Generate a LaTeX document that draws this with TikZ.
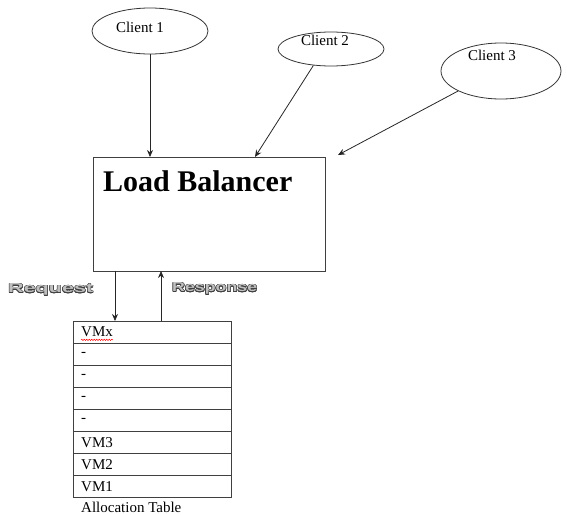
\documentclass[tikz,border=0pt]{standalone}
\usepackage{fontspec}
\setmainfont{Liberation Serif}
\newfontfamily\lsans{Liberation Sans}
\usepackage{contour}
\contourlength{0.5pt}
\usetikzlibrary{shapes.geometric,arrows.meta,decorations.pathmorphing,calc}
\begin{document}
\begin{tikzpicture}[x=1pt,y=-1pt,
  client/.style={draw=black!80,line width=0.8pt,ellipse,inner sep=0pt},
  small/.style={font=\fontsize{15}{17}\selectfont,inner sep=0pt},
  conn/.style={draw=black!85,line width=0.8pt,-{Stealth[length=7pt,width=6pt]}},
  row/.style={draw=black!75,line width=0.8pt,minimum width=158pt,minimum height=22.1pt,inner sep=0pt,outer sep=0pt,anchor=north west},
  rowtext/.style={font=\fontsize{15}{17}\selectfont,inner sep=0pt,anchor=west},
  outl/.style={inner sep=0pt,text=black!25}
]
\useasboundingbox (0,0) rectangle (567,514);
% clients
\node[client,minimum width=116pt,minimum height=46pt] (c1) at (150,31) {};
\node[client,minimum width=106pt,minimum height=34pt] (c2) at (331,49) {};
\node[client,minimum width=120pt,minimum height=56pt] (c3) at (501,71) {};
\node[small] (t1) at (140,27) {Client 1};
\node[small] (t2) at (325,40) {Client 2};
\node[small] (t3) at (492,55) {Client 3};
% load balancer
\node[draw=black!75,line width=0.8pt,minimum width=232pt,minimum height=114pt,anchor=north west,inner sep=0pt,outer sep=0pt] (lb) at (93,157) {};
\node[inner sep=0pt,anchor=base west,font=\fontsize{30}{34}\selectfont\bfseries] (lbt) at (103,191) {Load Balancer};
\coordinate (e1) at (150,157);
\coordinate (e2) at (255,157);
\coordinate (e3) at (338,155);
\draw[conn] (c1.south) -- (e1);
\draw[conn] (c2.223) -- (e2);
\draw[conn] (c3.205) -- (e3);
% table
\node[row] (r1) at (73,321) {};
\node[row] (r2) at (r1.south west) {};
\node[row] (r3) at (r2.south west) {};
\node[row] (r4) at (r3.south west) {};
\node[row] (r5) at (r4.south west) {};
\node[row] (r6) at (r5.south west) {};
\node[row] (r7) at (r6.south west) {};
\node[row] (r8) at (r7.south west) {};
\node[rowtext] (x1) at ($(r1.west)+(8,0)$) {VMx};
\node[rowtext] (x2) at ($(r2.west)+(8,0)$) {-};
\node[rowtext] (x3) at ($(r3.west)+(8,0)$) {-};
\node[rowtext] (x4) at ($(r4.west)+(8,0)$) {-};
\node[rowtext] (x5) at ($(r5.west)+(8,0)$) {-};
\node[rowtext] (x6) at ($(r6.west)+(8,0)$) {VM3};
\node[rowtext] (x7) at ($(r7.west)+(8,0)$) {VM2};
\node[rowtext] (x8) at ($(r8.west)+(8,0)$) {VM1};
\draw[red,line width=0.5pt,decorate,decoration={snake,amplitude=0.7pt,segment length=2.5pt}] ($(x1.base west)+(0,3)$) -- ($(x1.base east)+(0,3)$);
\node[rowtext] (cap) at (81,507) {Allocation Table};
% request / response
\coordinate (q1) at (115,271);
\coordinate (q2) at (115,321);
\coordinate (p1) at (161,321);
\coordinate (p2) at (161,271);
\draw[conn] (q1) -- (q2);
\draw[conn] (p1) -- (p2);
\node[outl,anchor=west] (req) at (8,290) {\contour{black!75}{\resizebox{85pt}{9pt}{\lsans\bfseries Request}}};
\node[outl,anchor=west] (resp) at (172,289) {\contour{black!75}{\resizebox{85pt}{9pt}{\lsans\bfseries Response}}};
\end{tikzpicture}
\end{document}
